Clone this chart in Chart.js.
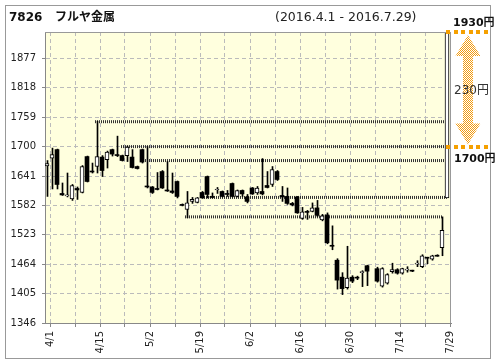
<!DOCTYPE html>
<html>
<head>
<meta charset="utf-8">
<script src="https://cdn.jsdelivr.net/npm/chart.js@4"></script>
<style>
  html, body { margin: 0; padding: 0; background: #fff; }
  #wrap { width: 496px; height: 364px; }
</style>
</head>
<body>
<div id="wrap"><canvas id="chart"></canvas></div>
<script>
// --------------------
// DATA
// --------------------
const titleCode = "7826";
const titleName = "フルヤ金属";
const periodText = "(2016.4.1 - 2016.7.29)";

const opens = [
  1661,1677,1694,1606,1601,1595,1616,1608,1680,1651,
  1660,1679,1674,1694,1684,1682,1682,1679,1660,1694,
  1621,1619,1616,1650,1613,1611,1630,1584,1574,1590,
  1588,1608,1640,1600,1613,1610,1606,1626,1600,1612,
  1599,1617,1607,1610,1622,1624,1650,1602,1600,1586,
  1599,1556,1570,1570,1577,1553,1563,1502,1472,1438,
  1417,1438,1438,1447,1461,null,1455,1420,1426,1449,
  1453,1446,1452,1451,1464,1459,1477,1474,1482,1497
];
const highs = [
  1672,1697,1695,1627,1647,1624,1619,1662,1681,1667,
  1751,1682,1691,1695,1721,1683,1701,1694,1661,1695,
  1700,1620,1648,1652,1670,1647,1631,1585,1610,1598,
  1598,1610,1641,1607,1618,1611,1612,1627,1613,1613,
  1604,1618,1620,1676,1650,1660,1652,1620,1617,1588,
  1600,1578,1572,1587,1592,1564,1567,1541,1475,1447,
  1500,1441,1440,1451,1462,null,1458,1457,1445,1466,
  1455,1456,1459,1452,1471,1483,1478,1482,1483,1559
];
const lows = [
  1600,1615,1615,1602,1599,1592,1594,1607,1629,1647,
  1647,1640,1657,1681,1680,1671,1670,1657,1655,1667,
  1617,1606,1613,1616,1610,1606,1597,1581,1557,1586,
  1587,1596,1597,1597,1606,1599,1600,1599,1599,1600,
  1587,1604,1604,1603,1617,1620,1632,1590,1584,1581,
  1566,1554,1554,1569,1560,1551,1505,1493,1414,1403,
  1414,1427,1433,1419,1421,null,1428,1418,1424,1446,
  1444,1444,1448,1449,1459,1457,1465,1472,1480,1481
];
const closes = [
  1666,1684,1624,1603,1603,1622,1613,1660,1630,1649,
  1680,1652,1689,1685,1682,1672,1699,1658,1656,1669,
  1619,1608,1614,1617,1611,1608,1600,1582,1587,1594,
  1597,1597,1604,1598,1614,1600,1604,1600,1612,1605,
  1590,1605,1617,1605,1618,1654,1634,1599,1586,1583,
  1567,1569,1568,1577,1562,1561,1507,1500,1432,1415,
  1436,1430,1436,1449,1450,null,1430,1455,1443,1453,
  1446,1455,1454,1450,1466,1481,1476,1481,1480,1532
];

// horizontal price lines (level, from candle, to candle)
const levelPrices = [1750, 1700, 1672, 1598, 1559];
const levelFrom   = [9.6, 14.8, 18.8, 31.4, 27.6];
const levelTo     = [80, 80, 80, 80, 79];

// range marker on the right
const rangeLow = 1597;
const markHigh = 1930;
const markLow = 1700;
const rangeSlot = 80;

const yTicks = [1346, 1405, 1464, 1523, 1582, 1641, 1700, 1759, 1818, 1877];
const xTickLabels = ["4/1","","4/15","","5/2","","5/19","","6/2","","6/16","","6/30","","7/14","","7/29"];
const xTickStart = 0.6;
const xTickEvery = 5;
const wickShift = 0.1;   // half a pixel so the 1px wick is crisp

// --------------------
// DATASETS
// --------------------
const whiteBodies = [], blackBodies = [], wicks = [];
opens.forEach((o, i) => {
  if (o === null) return;
  const c = closes[i];
  if (c >= o) whiteBodies.push({ x: i, y: [o, c] });
  else blackBodies.push({ x: i, y: [o, c] });
  wicks.push({ x: i + wickShift, y: [lows[i], highs[i]] });
});

const levelSets = levelPrices.map((p, k) => ({
  type: "line",
  data: [{ x: levelFrom[k], y: p }, { x: levelTo[k], y: p }],
  borderColor: "#333",
  borderWidth: 3,
  borderDash: [1, 1],
  pointRadius: 0,
  order: 3
}));

// dither pattern for the arrow
function ditherPattern(color) {
  const c = document.createElement("canvas");
  c.width = 2; c.height = 2;
  const g = c.getContext("2d");
  g.fillStyle = color;
  g.fillRect(0, 0, 1, 1);
  g.fillRect(1, 1, 1, 1);
  return c;
}

const decor = {
  id: "decor",
  beforeDraw(chart) {
    const { ctx, chartArea: a } = chart;
    ctx.save();
    ctx.fillStyle = "#fff";
    ctx.fillRect(0, 0, chart.width, chart.height);
    ctx.fillStyle = "#ffffde";
    ctx.fillRect(a.left, a.top, a.right - a.left, a.bottom - a.top);
    ctx.strokeStyle = "#999";
    ctx.lineWidth = 1;
    ctx.strokeRect(5.5, 5.5, 485, 353);
    ctx.restore();
  },
  afterDraw(chart) {
    const { ctx, chartArea: a } = chart;
    const y = chart.scales.y;
    const yHi = y.getPixelForValue(markHigh);
    const yLo = y.getPixelForValue(markLow);
    ctx.save();

    // plot frame top / right
    ctx.strokeStyle = "#999";
    ctx.lineWidth = 1;
    ctx.beginPath();
    ctx.moveTo(a.left, Math.round(a.top) + 0.5);
    ctx.lineTo(a.right, Math.round(a.top) + 0.5);
    ctx.moveTo(Math.round(a.right) - 0.5, a.top);
    ctx.lineTo(Math.round(a.right) - 0.5, a.bottom);
    ctx.stroke();

    // arrow
    const cx = 468, hw = 12.5, sw = 5, hl = 21;
    const top = yHi + 3, bot = yLo - 2;
    ctx.fillStyle = ctx.createPattern(ditherPattern("#f39c12"), "repeat");
    ctx.beginPath();
    ctx.moveTo(cx, top);
    ctx.lineTo(cx + hw, top + hl);
    ctx.lineTo(cx + sw, top + hl);
    ctx.lineTo(cx + sw, bot - hl);
    ctx.lineTo(cx + hw, bot - hl);
    ctx.lineTo(cx, bot);
    ctx.lineTo(cx - hw, bot - hl);
    ctx.lineTo(cx - sw, bot - hl);
    ctx.lineTo(cx - sw, top + hl);
    ctx.lineTo(cx - hw, top + hl);
    ctx.closePath();
    ctx.fill();

    // orange dotted lines
    ctx.fillStyle = "#f5a000";
    for (let k = 0; k < 6; k++) {
      const x = 446 + k * 7.6;
      ctx.fillRect(Math.round(x), Math.round(yHi) - 2, 4, 4);
      ctx.fillRect(Math.round(x), Math.round(yLo) - 2, 4, 4);
    }

    // texts
    ctx.fillStyle = "#111";
    ctx.textBaseline = "alphabetic";
    ctx.font = 'bold 12px "DejaVu Sans", "Noto Sans CJK JP"';
    ctx.fillText(titleCode, 9, 21);
    ctx.fillText(titleName, 55, 21);
    ctx.font = '12.5px "DejaVu Sans"';
    ctx.fillStyle = "#222";
    ctx.fillText(periodText, 275, 21);

    ctx.fillStyle = "#111";
    ctx.font = 'bold 11px "DejaVu Sans", "Noto Sans CJK JP"';
    ctx.fillText(markHigh + "円", 453, yHi - 6);
    ctx.fillText(markLow + "円", 454, yLo + 15);
    ctx.font = '12px "DejaVu Sans", "Noto Sans CJK JP"';
    ctx.fillStyle = "#333";
    ctx.fillText((markHigh - markLow) + "円", 454, (yHi + yLo) / 2 + 5);
    ctx.restore();
  }
};

const ctx = document.getElementById("chart").getContext("2d");
new Chart(ctx, {
  type: "bar",
  data: {
    datasets: [
      {
        data: whiteBodies,
        backgroundColor: "#fff",
        borderColor: "#000",
        borderWidth: 1,
        borderSkipped: false,
        barThickness: 4,
        minBarLength: 1,
        grouped: false,
        order: 0
      },
      {
        data: blackBodies,
        backgroundColor: "#000",
        borderWidth: 0,
        barThickness: 4,
        minBarLength: 1,
        grouped: false,
        order: 0
      },
      {
        data: [{ x: rangeSlot, y: [rangeLow, markHigh] }],
        backgroundColor: "#fff",
        borderColor: "#000",
        borderWidth: 1,
        borderSkipped: false,
        barThickness: 4,
        grouped: false,
        order: 0
      },
      {
        data: wicks,
        backgroundColor: "#000",
        barThickness: 1,
        grouped: false,
        order: 1
      },
      ...levelSets
    ]
  },
  options: {
    responsive: true,
    maintainAspectRatio: false,
    animation: false,
    devicePixelRatio: 1,
    layout: { padding: { top: 32, right: 45, left: 0, bottom: 0 } },
    plugins: {
      legend: { display: false },
      tooltip: { enabled: false }
    },
    scales: {
      x: {
        type: "linear",
        min: -0.4,
        max: 80.8,
        offset: false,
        afterFit(s) { s.height = 41; },
        afterBuildTicks(s) {
          s.ticks = xTickLabels.map((_, k) => ({ value: xTickStart + k * xTickEvery }));
        },
        grid: {
          color: "#bbb",
          offset: false,
          tickLength: 4,
          tickColor: "#888"
        },
        border: { color: "#888", dash: [4, 3] },
        ticks: {
          autoSkip: false,
          minRotation: 90,
          maxRotation: 90,
          padding: 4,
          color: "#222",
          font: { family: "DejaVu Sans", size: 10 },
          callback: (v, i) => xTickLabels[i]
        }
      },
      y: {
        min: 1346,
        max: 1930,
        afterFit(s) { s.width = 45; },
        afterBuildTicks(s) {
          s.ticks = yTicks.map(v => ({ value: v }));
        },
        grid: {
          color: "#bbb",
          tickLength: 3,
          tickColor: "#888"
        },
        border: { color: "#888", dash: [4, 3] },
        ticks: {
          padding: 6,
          color: "#222",
          font: { family: "DejaVu Sans", size: 10 },
          callback: v => String(v)
        }
      }
    }
  },
  plugins: [decor]
});
</script>
</body>
</html>
